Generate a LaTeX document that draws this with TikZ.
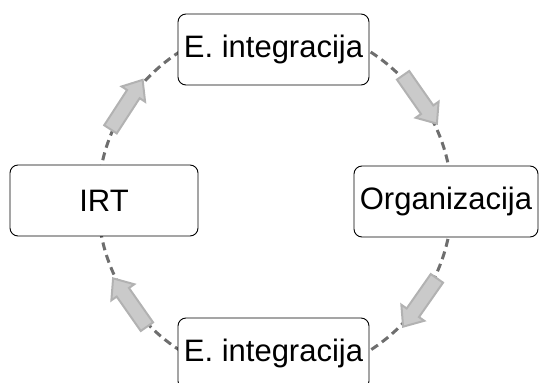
\documentclass[tikz,border=0pt]{standalone}
\usepackage{fontspec}
\setmainfont{Liberation Sans}
\definecolor{dashgray}{HTML}{6E6E6E}
\definecolor{arrfill}{HTML}{CACACA}
\definecolor{arrdraw}{HTML}{B2B2B2}
\tikzset{
  box/.style={draw=black, line width=0.9pt, fill=white, rounded corners=8pt,
    inner sep=0pt, minimum height=71pt, font=\fontsize{31}{36}\selectfont},
  ring/.style={draw=dashgray, line width=3pt, dash pattern=on 8pt off 5pt},
  blockarrow/.style={fill=arrfill, draw=arrdraw, line width=2pt, line join=miter}
}
\newcommand{\blockarr}[2]{% #1 = position angle, #2 = direction angle
  \begin{scope}[shift={(275pt,182pt)}]
    \begin{scope}[shift={(#1:177pt)}, rotate=#2]
      \path[blockarrow] (-29.5pt,-7.5pt) -- (12.5pt,-7.5pt) -- (12.5pt,-14pt) -- (29.5pt,0pt)
        -- (12.5pt,14pt) -- (12.5pt,7.5pt) -- (-29.5pt,7.5pt) -- cycle;
    \end{scope}
  \end{scope}}
\begin{document}
\begin{tikzpicture}[x=1pt,y=1pt]
  \useasboundingbox (0,0) rectangle (539,383);
  \coordinate (c) at (275,182);
  \path[ring] (c) circle[radius=177];
  \blockarr{147}{57}
  \blockarr{35}{-55}
  \blockarr{-35}{-125}
  \blockarr{-145}{125}
  \node[box, minimum width=191pt] (top) at (273.5,333.5) {E. integracija};
  \node[box, minimum width=191pt] (bot) at (273.5,29.5) {E. integracija};
  \node[box, minimum width=188pt] (irt) at (104,182.5) {IRT};
  \node[box, minimum width=184pt] (org) at (446,181.5) {Organizacija};
\end{tikzpicture}
\end{document}
